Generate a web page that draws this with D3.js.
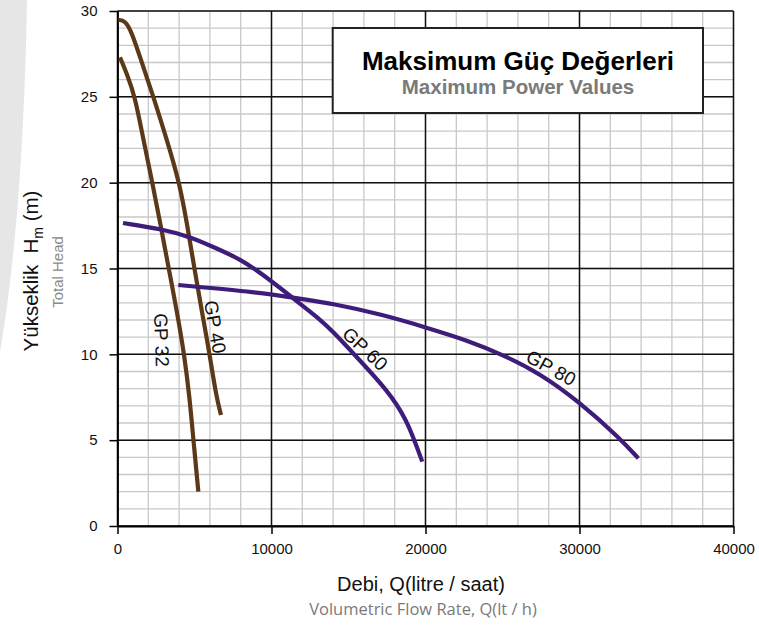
<!DOCTYPE html>
<html><head><meta charset="utf-8">
<script src="https://cdn.jsdelivr.net/npm/d3@7"></script>
<style>body{margin:0;background:#fff;overflow:hidden}</style>
</head><body><svg id="c" width="759" height="627"></svg>
<script>
// ---- data ----
const xTicks = [0, 10000, 20000, 30000, 40000];
const yTicks = [0, 5, 10, 15, 20, 25, 30];

const gp32Q = [162, 597, 1136, 1676, 2260, 2800, 3320, 3860, 4330, 4680, 4930, 5250];
const gp32H = [27.3, 26.37, 25.03, 22.52, 20.02, 17.52, 15.03, 12.5, 10.02, 7.5, 5.01, 2.0];

const gp40Q = [52, 487, 922, 1572, 2325, 3195, 4020, 4530, 4988, 5480, 5980, 6420, 6721];
const gp40H = [29.48, 29.45, 28.79, 27.01, 25.03, 22.52, 20.02, 17.52, 15.03, 12.5, 10.02, 7.5, 6.47];

const gp60Q = [357, 2975, 4710, 6440, 7955, 9300, 11416, 13140, 14013, 15275, 17600, 18780, 19430, 19790];
const gp60H = [17.65, 17.28, 16.85, 16.17, 15.54, 14.75, 13.26, 12.05, 11.3, 10.09, 7.85, 6.17, 4.62, 3.75];

const gp80Q = [3948, 9254, 11416, 14013, 17260, 20014, 22677, 25054, 27437, 30035, 32632, 33820];
const gp80H = [14.04, 13.6, 13.3, 12.95, 12.3, 11.57, 10.83, 9.96, 8.89, 7.2, 5.11, 3.94];

const seriesNames = ["GP 32", "GP 40", "GP 60", "GP 80"];
const labelQ = [2857, 6332, 16073, 28152];
const labelH = [10.83, 11.59, 10.31, 9.2];
const labelAngle = [88, 80, 43, 29];

const titleTR = "Maksimum Güç Değerleri";
const titleEN = "Maximum Power Values";
const xTitleTR = "Debi, Q(litre / saat)";
const xTitleEN = "Volumetric Flow Rate, Q(lt / h)";
const yTitleEN = "Total Head";

// ---- drawing ----
const brown = "#5b3817", purple = "#3d1c7a";
const colors = [brown, brown, purple, purple];
const Qs = [gp32Q, gp40Q, gp60Q, gp80Q], Hs = [gp32H, gp40H, gp60H, gp80H];

const svg = d3.select("#c");
const FONT = "'Liberation Sans', Arial, sans-serif";
const x = d3.scaleLinear().domain([0, 40000]).range([117.5, 733.5]);
const y = d3.scaleLinear().domain([0, 30]).range([526, 11]);

// left gray decorative shape
svg.append("path").attr("d", "M0,0 H27 C25,110 19,240 0,352 Z").attr("fill", "#e6e6e6");

// minor grid
const g = svg.append("g");
g.selectAll("line.vx").data(d3.range(0, 40001, 2000)).join("line")
  .attr("x1", d => x(d)).attr("x2", d => x(d)).attr("y1", y(0)).attr("y2", y(30))
  .attr("stroke", "#c8c8c8").attr("stroke-width", 1.3);
g.selectAll("line.hy").data(d3.range(0, 31, 1)).join("line")
  .attr("y1", d => y(d)).attr("y2", d => y(d)).attr("x1", x(0)).attr("x2", x(40000))
  .attr("stroke", "#c8c8c8").attr("stroke-width", 1.3);
// major grid
g.selectAll("line.mx").data(xTicks).join("line")
  .attr("x1", d => x(d)).attr("x2", d => x(d)).attr("y1", y(0)).attr("y2", y(30))
  .attr("stroke", "#111").attr("stroke-width", 1.5);
g.selectAll("line.my").data(yTicks).join("line")
  .attr("y1", d => y(d)).attr("y2", d => y(d)).attr("x1", x(0)).attr("x2", x(40000))
  .attr("stroke", "#111").attr("stroke-width", 1.5);

// axes
const ax = svg.append("g").attr("transform", `translate(0,${y(0)})`)
  .call(d3.axisBottom(x).tickValues(xTicks).tickFormat(d3.format("d")).tickSize(8).tickSizeOuter(0).tickPadding(9));
const ay = svg.append("g").attr("transform", `translate(${x(0)},0)`)
  .call(d3.axisLeft(y).tickValues(yTicks).tickSize(8).tickSizeOuter(0).tickPadding(12));
[ax, ay].forEach(a => {
  a.select(".domain").attr("stroke", "#000").attr("stroke-width", 1.8);
  a.selectAll(".tick line").attr("stroke", "#000").attr("stroke-width", 1.5);
  a.selectAll(".tick text").attr("font-family", FONT).attr("font-size", 15).attr("fill", "#111");
});

// curves
const line = d3.line().x(d => x(d[0])).y(d => y(d[1])).curve(d3.curveBasis);
Qs.forEach((q, i) => {
  svg.append("path").datum(q.map((v, j) => [v, Hs[i][j]]))
    .attr("d", line).attr("fill", "none").attr("stroke", colors[i])
    .attr("stroke-width", 4.2).attr("stroke-linecap", "butt").attr("stroke-linejoin", "round");
});

// curve labels
seriesNames.forEach((n, i) => {
  svg.append("text").text(n)
    .attr("transform", `translate(${x(labelQ[i])},${y(labelH[i])}) rotate(${labelAngle[i]})`)
    .attr("text-anchor", "middle").attr("dominant-baseline", "central")
    .attr("font-family", FONT).attr("font-size", 19).attr("fill", "#111");
});

// title box
svg.append("rect").attr("x", 332.7).attr("y", 28).attr("width", 370.3).attr("height", 85)
  .attr("fill", "#fff").attr("stroke", "#222").attr("stroke-width", 2);
svg.append("text").text(titleTR).attr("x", 518).attr("y", 70).attr("text-anchor", "middle")
  .attr("font-family", FONT).attr("font-weight", "bold").attr("font-size", 26).attr("fill", "#000");
svg.append("text").text(titleEN).attr("x", 518).attr("y", 94).attr("text-anchor", "middle")
  .attr("font-family", FONT).attr("font-weight", "bold").attr("font-size", 20.5).attr("fill", "#7a7a7a");

// x titles
svg.append("text").text(xTitleTR).attr("x", 421).attr("y", 591).attr("text-anchor", "middle")
  .attr("font-family", FONT).attr("font-size", 20).attr("fill", "#111");
svg.append("text").text(xTitleEN).attr("x", 423).attr("y", 615).attr("text-anchor", "middle")
  .attr("font-family", "'Open Sans', sans-serif").attr("font-size", 16.5).attr("fill", "#7a7a7a");

// y titles
const yt = svg.append("text").attr("transform", "translate(38,271) rotate(-90)").attr("text-anchor", "middle")
  .attr("font-family", FONT).attr("font-size", 20.5).attr("fill", "#111");
yt.append("tspan").text("Yükseklik\u00a0\u00a0H");
yt.append("tspan").text("m").attr("font-size", 14).attr("dy", 5);
yt.append("tspan").text("\u00a0(m)").attr("dy", -5);
svg.append("text").text(yTitleEN).attr("transform", "translate(63,272) rotate(-90)").attr("text-anchor", "middle")
  .attr("font-family", FONT).attr("font-size", 15).attr("fill", "#8a8a8a");
</script>
</body></html>
